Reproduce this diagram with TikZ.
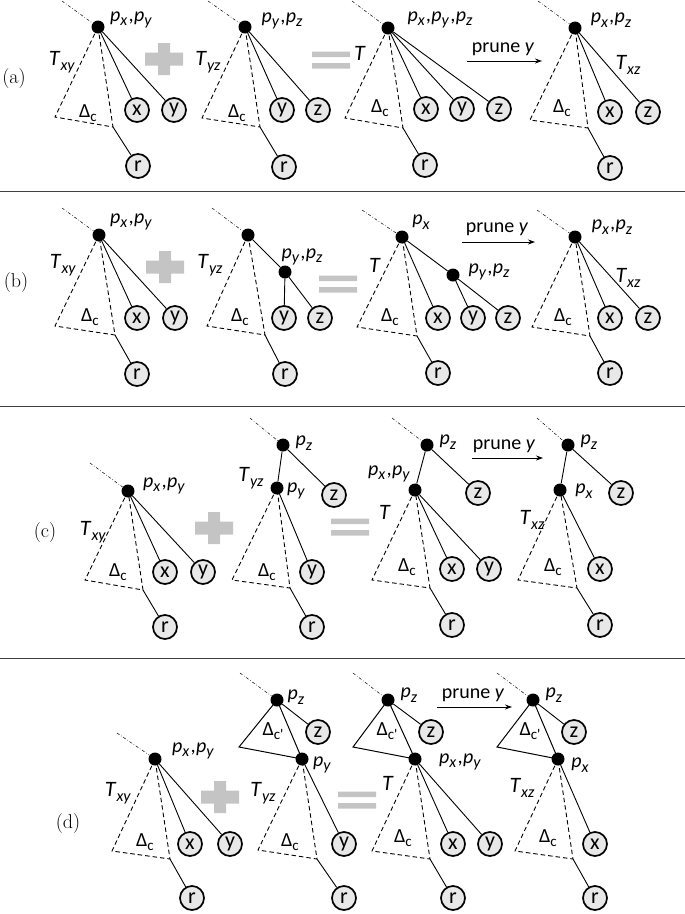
\documentclass[tikz,border=0pt]{standalone}
\usepackage{fontspec}
\newfontfamily\carl{Carlito}
\usetikzlibrary{arrows.meta}
\definecolor{plusc}{gray}{0.77}
\tikzset{
 leaf/.style={circle,draw,line width=1.7pt,fill=gray!18,minimum size=24pt,inner sep=0pt,font=\carl\fontsize{22}{22}\selectfont},
 bdot/.style={circle,fill=black,minimum size=13pt,inner sep=0pt},
 edge/.style={line width=0.9pt},
 dtri/.style={line width=0.9pt,dash pattern=on 4.5pt off 3pt},
 stri/.style={line width=1pt},
 dotln/.style={line width=0.5pt,dash pattern=on 3pt off 2pt on 0.6pt off 2pt},
 lab/.style={font=\carl\fontsize{20}{20}\selectfont,inner sep=0pt},
 tlab/.style={font=\carl\fontsize{22}{22}\selectfont,inner sep=0pt},
 dlab/.style={font=\carl\fontsize{20}{20}\selectfont,inner sep=0pt},
 plab/.style={font=\fontsize{20}{20}\selectfont,inner sep=0pt},
 sepline/.style={line width=1pt,black!75},
 arr/.style={line width=0.9pt,-{Stealth[length=7pt,width=5pt]}},
}
\newcommand\pv[2]{\textit{#1}\raisebox{-4.5pt}{\fontsize{16}{16}\selectfont\textit{#2}}}
\newcommand\dc[1]{Δ\raisebox{-4pt}{\fontsize{15}{15}\selectfont #1}}
\newcommand\cm{\kern1.5pt\textit{,}}
\newcommand\drawplus[2]{\fill[plusc,shift={(#1,#2)}] (-19,-6.5) rectangle (19,6.5) (-6,-16) rectangle (6,16);}
\newcommand\drawequals[2]{\fill[plusc,shift={(#1,#2)}] (-19,-8.5) rectangle (19,-3) (-19,3) rectangle (19,8.5);}
\begin{document}
\begin{tikzpicture}[x=1pt,y=-1pt]
\useasboundingbox (0,0) rectangle (685,914);
\draw[sepline] (0,191) -- (685,191);
\draw[sepline] (0,406) -- (685,406);
\draw[sepline] (0,658) -- (685,658);

% ================= (a)
\node[plab] (la) at (14,79) {(a)};
% A1
\node[bdot] (a1) at (98,27) {};
\coordinate (a1d) at (62,1);
\coordinate (a1tl) at (55,117);
\coordinate (a1tr) at (113,127);
\node[leaf] (a1x) at (137,110) {x};
\node[leaf] (a1y) at (174,110) {y};
\node[leaf] (a1r) at (138,166) {r};
\node[lab] (a1p) at (131,20) {\pv{p}{x}\cm\pv{p}{y}};
\node[tlab] (a1T) at (62,62) {\pv{T}{xy}};
\node[dlab] (a1D) at (88,113) {\dc{c}};
\draw[dotln] (a1d) -- (a1);
\draw[dtri] (a1.center) -- (a1tl) -- (a1tr) -- cycle;
\draw[edge] (a1tr) -- (a1r);
\draw[edge] (a1) -- (a1x);
\draw[edge] (a1) -- (a1y);
\drawplus{164}{59}
% A2
\node[bdot] (a2) at (245,27) {};
\coordinate (a2d) at (208,1);
\coordinate (a2tl) at (202,118);
\coordinate (a2tr) at (260,127);
\node[leaf] (a2y) at (282,110) {y};
\node[leaf] (a2z) at (318,110) {z};
\node[leaf] (a2r) at (284,167) {r};
\node[lab] (a2p) at (282,21) {\pv{p}{y}\cm\pv{p}{z}};
\node[tlab] (a2T) at (208,62) {\pv{T}{yz}};
\node[dlab] (a2D) at (237,113) {\dc{c}};
\draw[dotln] (a2d) -- (a2);
\draw[dtri] (a2.center) -- (a2tl) -- (a2tr) -- cycle;
\draw[edge] (a2tr) -- (a2r);
\draw[edge] (a2) -- (a2y);
\draw[edge] (a2) -- (a2z);
\drawequals{331}{60}
% A3
\node[bdot] (a3) at (388,28) {};
\coordinate (a3d) at (352,1);
\coordinate (a3tl) at (345,118);
\coordinate (a3tr) at (403,128);
\node[leaf] (a3x) at (426,109) {x};
\node[leaf] (a3y) at (462,109) {y};
\node[leaf] (a3z) at (499,109) {z};
\node[leaf] (a3r) at (425,165) {r};
\node[lab] (a3p) at (440,20) {\pv{p}{x}\cm\pv{p}{y}\cm\pv{p}{z}};
\node[tlab] (a3T) at (360,53) {\textit{T}};
\node[dlab] (a3D) at (380,108) {\dc{c}};
\draw[dotln] (a3d) -- (a3);
\draw[dtri] (a3.center) -- (a3tl) -- (a3tr) -- cycle;
\draw[edge] (a3tr) -- (a3r);
\draw[edge] (a3) -- (a3x);
\draw[edge] (a3) -- (a3y);
\draw[edge] (a3) -- (a3z);
\coordinate (aas) at (467,61);
\coordinate (aae) at (542,61);
\draw[arr] (aas) -- (aae);
\node[lab] (aal) at (503,49) {prune \textit{y}};
% A4
\node[bdot] (a4) at (575,28) {};
\coordinate (a4d) at (538,1);
\coordinate (a4tl) at (530,120);
\coordinate (a4tr) at (588,128);
\node[leaf] (a4x) at (610,112) {x};
\node[leaf] (a4z) at (648,112) {z};
\node[leaf] (a4r) at (610,168) {r};
\node[lab] (a4p) at (611,20) {\pv{p}{x}\cm\pv{p}{z}};
\node[tlab] (a4T) at (628,65) {\pv{T}{xz}};
\node[dlab] (a4D) at (562,108) {\dc{c}};
\draw[dotln] (a4d) -- (a4);
\draw[dtri] (a4.center) -- (a4tl) -- (a4tr) -- cycle;
\draw[edge] (a4tr) -- (a4r);
\draw[edge] (a4) -- (a4x);
\draw[edge] (a4) -- (a4z);

% ================= (b)
\node[plab] (lb) at (16,283) {(b)};
% B1
\node[bdot] (b1) at (99,235) {};
\coordinate (b1d) at (62,208);
\coordinate (b1tl) at (55,326);
\coordinate (b1tr) at (115,335);
\node[leaf] (b1x) at (137,318) {x};
\node[leaf] (b1y) at (175,318) {y};
\node[leaf] (b1r) at (137,374) {r};
\node[lab] (b1p) at (131,222) {\pv{p}{x}\cm\pv{p}{y}};
\node[tlab] (b1T) at (63,265) {\pv{T}{xy}};
\node[dlab] (b1D) at (90,317) {\dc{c}};
\draw[dotln] (b1d) -- (b1);
\draw[dtri] (b1.center) -- (b1tl) -- (b1tr) -- cycle;
\draw[edge] (b1tr) -- (b1r);
\draw[edge] (b1) -- (b1x);
\draw[edge] (b1) -- (b1y);
\drawplus{165}{267}
% B2
\node[bdot] (b2) at (248,235) {};
\node[bdot] (b2i) at (285,272) {};
\coordinate (b2d) at (212,208);
\coordinate (b2tl) at (207,326);
\coordinate (b2tr) at (265,335);
\node[leaf] (b2y) at (284,318) {y};
\node[leaf] (b2z) at (320,318) {z};
\node[leaf] (b2r) at (285,374) {r};
\node[lab] (b2p) at (302,257) {\pv{p}{y}\cm\pv{p}{z}};
\node[tlab] (b2T) at (210,265) {\pv{T}{yz}};
\node[dlab] (b2D) at (240,317) {\dc{c}};
\draw[dotln] (b2d) -- (b2);
\draw[dtri] (b2.center) -- (b2tl) -- (b2tr) -- cycle;
\draw[edge] (b2tr) -- (b2r);
\draw[edge] (b2) -- (b2i);
\draw[edge] (b2i) -- (b2y);
\draw[edge] (b2i) -- (b2z);
\drawequals{338}{284}
% B3
\node[bdot] (b3) at (402,237) {};
\node[bdot] (b3i) at (453,275) {};
\coordinate (b3d) at (362,210);
\coordinate (b3tl) at (357,327);
\coordinate (b3tr) at (417,336);
\node[leaf] (b3x) at (438,318) {x};
\node[leaf] (b3y) at (473,318) {y};
\node[leaf] (b3z) at (508,318) {z};
\node[leaf] (b3r) at (438,373) {r};
\node[lab] (b3p) at (421,222) {\pv{p}{x}};
\node[lab] (b3q) at (489,272) {\pv{p}{y}\cm\pv{p}{z}};
\node[tlab] (b3T) at (375,265) {\textit{T}};
\node[dlab] (b3D) at (390,317) {\dc{c}};
\draw[dotln] (b3d) -- (b3);
\draw[dtri] (b3.center) -- (b3tl) -- (b3tr) -- cycle;
\draw[edge] (b3tr) -- (b3r);
\draw[edge] (b3) -- (b3x);
\draw[edge] (b3) -- (b3i);
\draw[edge] (b3i) -- (b3y);
\draw[edge] (b3i) -- (b3z);
\coordinate (bas) at (462,242);
\coordinate (bae) at (535,242);
\draw[arr] (bas) -- (bae);
\node[lab] (bal) at (497,229) {prune \textit{y}};
% B4
\node[bdot] (b4) at (575,237) {};
\coordinate (b4d) at (537,210);
\coordinate (b4tl) at (532,327);
\coordinate (b4tr) at (590,336);
\node[leaf] (b4x) at (610,318) {x};
\node[leaf] (b4z) at (648,318) {z};
\node[leaf] (b4r) at (610,373) {r};
\node[lab] (b4p) at (612,227) {\pv{p}{x}\cm\pv{p}{z}};
\node[tlab] (b4T) at (628,278) {\pv{T}{xz}};
\node[dlab] (b4D) at (563,317) {\dc{c}};
\draw[dotln] (b4d) -- (b4);
\draw[dtri] (b4.center) -- (b4tl) -- (b4tr) -- cycle;
\draw[edge] (b4tr) -- (b4r);
\draw[edge] (b4) -- (b4x);
\draw[edge] (b4) -- (b4z);

% ================= (c)
\node[plab] (lc) at (45,533) {(c)};
% C1
\node[bdot] (c1) at (128,491) {};
\coordinate (c1d) at (90,463);
\coordinate (c1tl) at (85,580);
\coordinate (c1tr) at (143,590);
\node[leaf] (c1x) at (165,572) {x};
\node[leaf] (c1y) at (203,572) {y};
\node[leaf] (c1r) at (165,627) {r};
\node[lab] (c1p) at (164,486) {\pv{p}{x}\cm\pv{p}{y}};
\node[tlab] (c1T) at (93,532) {\pv{T}{xy}};
\node[dlab] (c1D) at (118,572) {\dc{c}};
\draw[dotln] (c1d) -- (c1);
\draw[dtri] (c1.center) -- (c1tl) -- (c1tr) -- cycle;
\draw[edge] (c1tr) -- (c1r);
\draw[edge] (c1) -- (c1x);
\draw[edge] (c1) -- (c1y);
\drawplus{214}{528}
% C2
\node[bdot] (c2) at (283,445) {};
\node[bdot] (c2i) at (277,488) {};
\coordinate (c2d) at (250,418);
\coordinate (c2tl) at (232,580);
\coordinate (c2tr) at (290,588);
\node[leaf] (c2z) at (334,495) {z};
\node[leaf] (c2y) at (312,572) {y};
\node[leaf] (c2r) at (312,627) {r};
\node[lab] (c2p) at (304,443) {\pv{p}{z}};
\node[lab] (c2q) at (296,491) {\pv{p}{y}};
\node[tlab] (c2T) at (251,478) {\pv{T}{yz}};
\node[dlab] (c2D) at (267,572) {\dc{c}};
\draw[dotln] (c2d) -- (c2);
\draw[edge] (c2) -- (c2i);
\draw[edge] (c2) -- (c2z);
\draw[dtri] (c2i.center) -- (c2tl) -- (c2tr) -- cycle;
\draw[edge] (c2tr) -- (c2r);
\draw[edge] (c2i) -- (c2y);
\drawequals{350}{527}
% C3
\node[bdot] (c3) at (427,445) {};
\node[bdot] (c3i) at (415,490) {};
\coordinate (c3d) at (392,418);
\coordinate (c3tl) at (372,580);
\coordinate (c3tr) at (430,588);
\node[leaf] (c3z) at (478,493) {z};
\node[leaf] (c3x) at (452,569) {x};
\node[leaf] (c3y) at (489,569) {y};
\node[leaf] (c3r) at (452,625) {r};
\node[lab] (c3p) at (448,442) {\pv{p}{z}};
\node[lab] (c3q) at (389,474) {\pv{p}{x}\cm\pv{p}{y}};
\node[tlab] (c3T) at (385,512) {\textit{T}};
\node[dlab] (c3D) at (407,567) {\dc{c}};
\draw[dotln] (c3d) -- (c3);
\draw[edge] (c3) -- (c3i);
\draw[edge] (c3) -- (c3z);
\draw[dtri] (c3i.center) -- (c3tl) -- (c3tr) -- cycle;
\draw[edge] (c3tr) -- (c3r);
\draw[edge] (c3i) -- (c3x);
\draw[edge] (c3i) -- (c3y);
\coordinate (cas) at (472,458);
\coordinate (cae) at (543,458);
\draw[arr] (cas) -- (cae);
\node[lab] (cal) at (504,446) {prune \textit{y}};
% C4
\node[bdot] (c4) at (568,445) {};
\node[bdot] (c4i) at (560,490) {};
\coordinate (c4d) at (537,418);
\coordinate (c4tl) at (518,580);
\coordinate (c4tr) at (577,588);
\node[leaf] (c4z) at (621,493) {z};
\node[leaf] (c4x) at (600,569) {x};
\node[leaf] (c4r) at (600,625) {r};
\node[lab] (c4p) at (589,442) {\pv{p}{z}};
\node[lab] (c4q) at (584,491) {\pv{p}{x}};
\node[tlab] (c4T) at (532,520) {\pv{T}{xz}};
\node[dlab] (c4D) at (553,567) {\dc{c}};
\draw[dotln] (c4d) -- (c4);
\draw[edge] (c4) -- (c4i);
\draw[edge] (c4) -- (c4z);
\draw[dtri] (c4i.center) -- (c4tl) -- (c4tr) -- cycle;
\draw[edge] (c4tr) -- (c4r);
\draw[edge] (c4i) -- (c4x);

% ================= (d)
\node[plab] (ld) at (68,823) {(d)};
% D1
\node[bdot] (d1) at (155,759) {};
\coordinate (d1d) at (117,733);
\coordinate (d1tl) at (112,851);
\coordinate (d1tr) at (170,859);
\node[leaf] (d1x) at (190,844) {x};
\node[leaf] (d1y) at (230,844) {y};
\node[leaf] (d1r) at (192,898) {r};
\node[lab] (d1p) at (193,751) {\pv{p}{x}\cm\pv{p}{y}};
\node[tlab] (d1T) at (118,793) {\pv{T}{xy}};
\node[dlab] (d1D) at (145,842) {\dc{c}};
\draw[dotln] (d1d) -- (d1);
\draw[dtri] (d1.center) -- (d1tl) -- (d1tr) -- cycle;
\draw[edge] (d1tr) -- (d1r);
\draw[edge] (d1) -- (d1x);
\draw[edge] (d1) -- (d1y);
\drawplus{220}{797}
% D2
\node[bdot] (d2) at (277,700) {};
\node[bdot] (d2i) at (302,759) {};
\coordinate (d2d) at (240,673);
\coordinate (d2sl) at (239,747);
\coordinate (d2tl) at (258,850);
\coordinate (d2tr) at (317,859);
\node[leaf] (d2z) at (318,732) {z};
\node[leaf] (d2y) at (344,844) {y};
\node[leaf] (d2r) at (344,898) {r};
\node[lab] (d2p) at (296,697) {\pv{p}{z}};
\node[lab] (d2q) at (322,765) {\pv{p}{y}};
\node[tlab] (d2T) at (263,793) {\pv{T}{yz}};
\node[dlab] (d2E) at (273,731) {\dc{c'}};
\node[dlab] (d2D) at (290,842) {\dc{c}};
\draw[dotln] (d2d) -- (d2);
\draw[stri] (d2.center) -- (d2sl) -- (d2i.center) -- cycle;
\draw[edge] (d2) -- (d2z);
\draw[dtri] (d2i.center) -- (d2tl) -- (d2tr) -- cycle;
\draw[edge] (d2tr) -- (d2r);
\draw[edge] (d2i) -- (d2y);
\drawequals{357}{800}
% D3
\node[bdot] (d3) at (388,700) {};
\node[bdot] (d3i) at (415,759) {};
\coordinate (d3d) at (353,673);
\coordinate (d3sl) at (353,747);
\coordinate (d3tl) at (372,851);
\coordinate (d3tr) at (430,859);
\node[leaf] (d3z) at (431,732) {z};
\node[leaf] (d3x) at (453,844) {x};
\node[leaf] (d3y) at (490,844) {y};
\node[leaf] (d3r) at (453,898) {r};
\node[lab] (d3p) at (409,695) {\pv{p}{z}};
\node[lab] (d3q) at (460,762) {\pv{p}{x}\cm\pv{p}{y}};
\node[tlab] (d3T) at (388,783) {\textit{T}};
\node[dlab] (d3E) at (387,731) {\dc{c'}};
\node[dlab] (d3D) at (403,838) {\dc{c}};
\draw[dotln] (d3d) -- (d3);
\draw[stri] (d3.center) -- (d3sl) -- (d3i.center) -- cycle;
\draw[edge] (d3) -- (d3z);
\draw[dtri] (d3i.center) -- (d3tl) -- (d3tr) -- cycle;
\draw[edge] (d3tr) -- (d3r);
\draw[edge] (d3i) -- (d3x);
\draw[edge] (d3i) -- (d3y);
\coordinate (das) at (437,707);
\coordinate (dae) at (512,707);
\draw[arr] (das) -- (dae);
\node[lab] (dal) at (473,695) {prune \textit{y}};
% D4
\node[bdot] (d4) at (533,700) {};
\node[bdot] (d4i) at (558,759) {};
\coordinate (d4d) at (497,673);
\coordinate (d4sl) at (497,747);
\coordinate (d4tl) at (515,851);
\coordinate (d4tr) at (573,859);
\node[leaf] (d4z) at (574,732) {z};
\node[leaf] (d4x) at (595,844) {x};
\node[leaf] (d4r) at (595,898) {r};
\node[lab] (d4p) at (554,695) {\pv{p}{z}};
\node[lab] (d4q) at (580,765) {\pv{p}{x}};
\node[tlab] (d4T) at (522,788) {\pv{T}{xz}};
\node[dlab] (d4E) at (530,731) {\dc{c'}};
\node[dlab] (d4D) at (548,838) {\dc{c}};
\draw[dotln] (d4d) -- (d4);
\draw[stri] (d4.center) -- (d4sl) -- (d4i.center) -- cycle;
\draw[edge] (d4) -- (d4z);
\draw[dtri] (d4i.center) -- (d4tl) -- (d4tr) -- cycle;
\draw[edge] (d4tr) -- (d4r);
\draw[edge] (d4i) -- (d4x);
\end{tikzpicture}
\end{document}
